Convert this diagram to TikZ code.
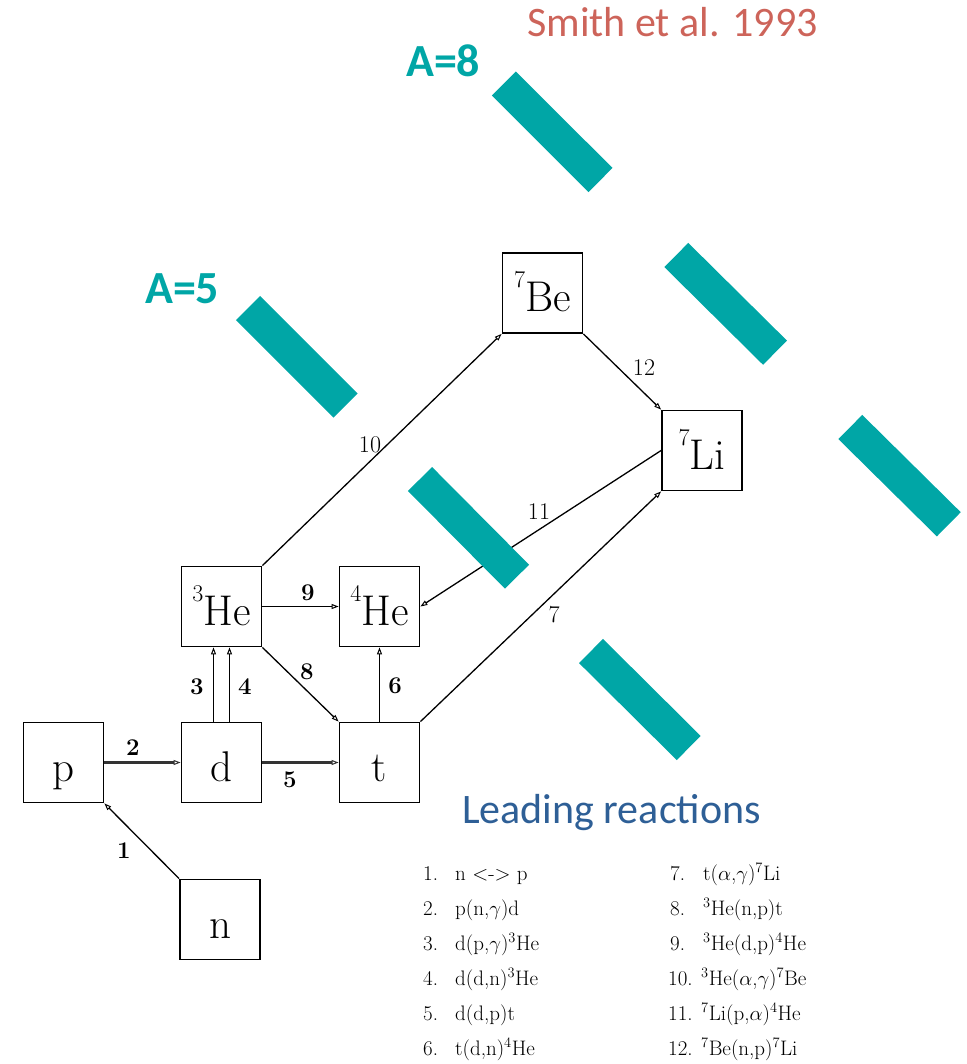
\documentclass[tikz,border=0pt]{standalone}
\usepackage{fontspec}
\newfontfamily\carlito{Carlito}
\usetikzlibrary{arrows.meta}
\definecolor{tealbar}{RGB}{0,166,166}
\definecolor{refred}{RGB}{205,100,90}
\definecolor{headblue}{RGB}{46,95,150}
% isotope symbol: raised mass number before the element
\newcommand\iso[2]{\raisebox{24pt}{\fontsize{24}{24}\selectfont #1}#2}
\begin{document}
\begin{tikzpicture}[x=1pt,y=-1pt,
  nuc/.style={draw, line width=1.8pt, minimum width=80pt, minimum height=80pt,
    inner sep=0pt, text height=37pt, text depth=0pt,
    font=\fontsize{43}{43}\selectfont},
  rx/.style={line width=1.3pt, -{Triangle[open,length=7pt,width=5pt,line width=1pt]}},
  rxd/.style={rx, line width=2.3pt, draw=black!80},
  num/.style={inner sep=0pt, font=\fontsize{24}{24}\selectfont\bfseries},
  numr/.style={inner sep=0pt, font=\fontsize{24}{24}\selectfont},
  bar/.style={draw=tealbar, line width=34pt, line cap=butt},
  lst/.style={anchor=base west, inner sep=0pt, font=\fontsize{21}{21}\selectfont},
  title/.style={anchor=base west, inner sep=0pt},
]
\useasboundingbox (0,0) rectangle (966,1064);

% nuclide boxes
\node[nuc] (p)   at (63.5,762.5)  {p};
\node[nuc] (d)   at (221.5,762.5) {d};
\node[nuc] (t)   at (379.5,762.5) {t};
\node[nuc] (n)   at (220,919.5)   {n};
\node[nuc] (He3) at (221.5,606.5) {\iso{3}{He}};
\node[nuc] (He4) at (379.5,606.5) {\iso{4}{He}};
\node[nuc] (Be7) at (542.5,293)   {\iso{7}{Be}};
\node[nuc] (Li7) at (702,450.5)   {\iso{7}{Li}};

% reactions
\draw[rx]  (n.north west) -- (p.south east);
\draw[rxd] (p.east) -- (d.west);
\draw[rx]  ([xshift=-8pt]d.north) -- ([xshift=-8pt]He3.south);
\draw[rx]  ([xshift=8pt]d.north) -- ([xshift=8pt]He3.south);
\draw[rxd] (d.east) -- (t.west);
\draw[rx]  (t.north) -- (He4.south);
\draw[rx]  (t.north east) -- (Li7.south west);
\draw[rx]  (He3.south east) -- (t.north west);
\draw[rx]  (He3.east) -- (He4.west);
\draw[rx]  (He3.north east) -- (Be7.south west);
\draw[rx]  (Li7.west) -- (He4.east);
\draw[rx]  (Be7.south east) -- (Li7.north west);

% reaction numbers
\node[num]  (l1)  at (124,851) {1};
\node[num]  (l2)  at (133,748) {2};
\node[num]  (l3)  at (197,687) {3};
\node[num]  (l4)  at (245,687) {4};
\node[num]  (l5)  at (290,780) {5};
\node[num]  (l6)  at (395,686) {6};
\node[numr] (l7)  at (554,615) {7};
\node[num]  (l8)  at (307,672) {8};
\node[num]  (l9)  at (308,593) {9};
\node[numr] (l10) at (370,445) {10};
\node[numr] (l11) at (539,512) {11};
\node[numr] (l12) at (644,368) {12};

% mass-number gaps
\draw[bar] (503.8,83.5) -- (600.5,180);
\draw[bar] (248,308) -- (345.5,405.5);
\draw[bar] (676.3,255) -- (775,352.7);
\draw[bar] (850.3,427) -- (948.8,524.3);
\draw[bar] (420,479) -- (517,576.7);
\draw[bar] (591,651) -- (688.7,748);

% headings
\node[title, text=refred, font=\carlito\fontsize{42}{42}\selectfont] (ref) at (527,37) {Smith et al. 1993};
\node[title, text=tealbar, font=\carlito\bfseries\fontsize{46}{46}\selectfont] (a8) at (406,77) {A=8};
\node[title, text=tealbar, font=\carlito\bfseries\fontsize{46}{46}\selectfont] (a5) at (145,303) {A=5};
\node[title, text=headblue, font=\carlito\fontsize{42}{42}\selectfont] (lead) at (462,823.5) {Leading reactions};

% list of reactions
\node[lst] (k1)  at (423,880)  {1.};  \node[lst] (r1)  at (455,880)  {n <-> p};
\node[lst] (k2)  at (423,915)  {2.};  \node[lst] (r2)  at (455,915)  {p(n,$\gamma$)d};
\node[lst] (k3)  at (423,950)  {3.};  \node[lst] (r3)  at (455,950)  {d(p,$\gamma$)$^3$He};
\node[lst] (k4)  at (423,985)  {4.};  \node[lst] (r4)  at (455,985)  {d(d,n)$^3$He};
\node[lst] (k5)  at (423,1020) {5.};  \node[lst] (r5)  at (455,1020) {d(d,p)t};
\node[lst] (k6)  at (423,1055) {6.};  \node[lst] (r6)  at (455,1055) {t(d,n)$^4$He};
\node[lst] (k7)  at (670,880)  {7.};  \node[lst] (r7)  at (703,880)  {t($\alpha$,$\gamma$)$^7$Li};
\node[lst] (k8)  at (670,915)  {8.};  \node[lst] (r8)  at (703,915)  {$^3$He(n,p)t};
\node[lst] (k9)  at (670,950)  {9.};  \node[lst] (r9)  at (703,950)  {$^3$He(d,p)$^4$He};
\node[lst] (k10) at (668,985)  {10.}; \node[lst] (r10) at (701,985)  {$^3$He($\alpha$,$\gamma$)$^7$Be};
\node[lst] (k11) at (668,1020) {11.}; \node[lst] (r11) at (701,1020) {$^7$Li(p,$\alpha$)$^4$He};
\node[lst] (k12) at (668,1055) {12.}; \node[lst] (r12) at (701,1055) {$^7$Be(n,p)$^7$Li};
\end{tikzpicture}
\end{document}
